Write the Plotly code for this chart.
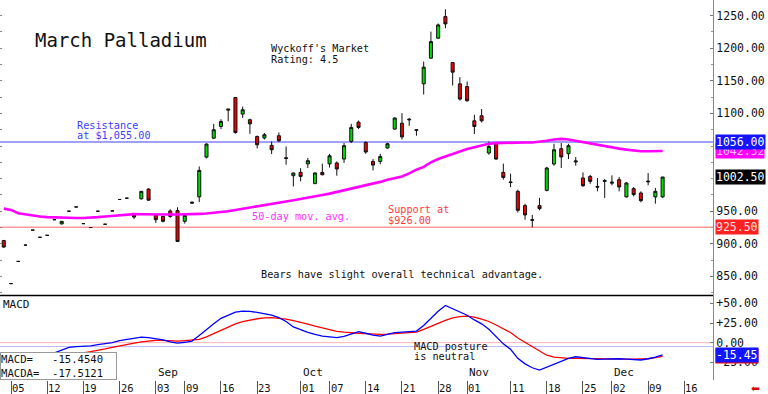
import plotly.graph_objects as go

# ---------------- data ----------------
tick_idx = [0, 5, 10, 15, 20, 24, 29, 34, 40, 44, 49, 54, 59, 63, 69, 74, 79, 83, 88, 93]
tick_labels = ["05", "12", "19", "26", "03", "09", "16", "23", "01", "07", "14", "21",
               "28", "01", "11", "18", "25", "02", "09", "16"]
month_idx = [20, 40, 63, 83]
month_labels = ["Sep", "Oct", "Nov", "Dec"]

day_idx = list(range(-1, 91))
opens = [905, 839, 873, 898, 921, 910, 913, 937, 930.5, 950, 956.5, 931, 925, 950, 930, 950.5, 968, 970,
         946, 969, 984, 945, 942, 950.5, 951, 934.5, 964, 972, 1033, 1062, 1080, 1105, 1124.4, 1099,
         1090.3, 1064.7, 1062.3, 1051, 1065.8, 1032, 1004.5, 1009.6, 1022.6, 992.3, 1009.6, 1022.6, 1024,
         1030, 1057, 1086.7, 1055.5, 1026.4, 1026.4, 1047, 1076, 1085, 1090, 1075, 1145.4, 1184.8, 1215.4,
         1248.5, 1178, 1145.4, 1141.3, 1088.7, 1096.4, 1039.3, 1053.5, 1009.6, 995, 980.5, 958.6, 936,
         958.6, 982, 1022.4, 1045.9, 1038.2, 1025.5, 1001, 1003.4, 988, 997, 993, 998.4, 972, 984.6, 978,
         995, 972, 972]
highs = [906, 839, 873, 898, 921, 910, 913, 937, 935, 950, 956.5, 931, 925, 950, 930, 950.5, 968, 970,
         947, 981, 985, 946, 943, 953, 956, 945, 964.5, 1018.7, 1054, 1084, 1091, 1107, 1125, 1110.6,
         1092, 1066, 1070, 1057, 1070.8, 1049.4, 1009, 1016, 1031.6, 1009.5, 1023, 1038, 1026.4, 1054.6,
         1084, 1089, 1057, 1030, 1038, 1055, 1094, 1100.5, 1093, 1076, 1179.6, 1225.5, 1238, 1259.8,
         1178.5, 1155.7, 1149, 1097.9, 1106.7, 1057, 1055, 1023, 1007.6, 983, 961.6, 944.3, 970.4, 1018,
         1053.5, 1054.6, 1053.5, 1033.2, 1009.6, 1005.7, 1001, 999.5, 1005, 1002.5, 994.5, 987.2, 980.5,
         1008.6, 985.7, 1002.5]
lows = [894, 839, 873, 898, 921, 910, 913, 937, 930, 950, 956.5, 931, 925, 950, 930, 950.5, 968, 970,
        938, 968, 966, 932, 933, 940, 903, 931, 962, 964, 1031, 1061, 1076, 1088, 1069, 1093, 1068.8,
        1046.3, 1060, 1037.7, 1056, 1021.4, 988, 995.8, 1016.3, 992, 1005, 1017, 1004.5, 1024, 1054.6,
        1076, 1038, 1012.6, 1022, 1046, 1075, 1060, 1081, 1065.8, 1129, 1184, 1214, 1230.7, 1142.8,
        1119.8, 1118.3, 1068.4, 1086, 1036.7, 1029, 998.4, 987, 948, 937, 925.3, 951.4, 980.5, 1019.8,
        1016.3, 1030, 1019.8, 987.2, 992, 980.5, 970.4, 989.7, 980.5, 971, 972.8, 963.6, 989.7, 961.6,
        970.4]
closes = [895, 839, 873, 898, 921, 910, 913, 937, 934.5, 950, 956.5, 931, 925, 950, 930, 950.5, 968, 970,
          941, 980.5, 967, 937, 934.5, 942, 903.5, 943.7, 962.5, 1012.6, 1053, 1075, 1087.7, 1106.5,
          1070.8, 1105.6, 1084, 1052, 1067.3, 1044.3, 1058, 1031, 1008.6, 1003.4, 1027.5, 1008.7, 1006,
          1035, 1014.8, 1050.5, 1078.5, 1078.5, 1040.8, 1020.8, 1034, 1053.5, 1093, 1064, 1091, 1074,
          1171, 1210.2, 1235.8, 1237.3, 1163.3, 1122, 1119.4, 1080, 1088.7, 1049.4, 1030, 1001.9, 994,
          951.4, 944.3, 937, 954, 1016.3, 1044.3, 1033.2, 1050.5, 1027, 989.2, 995.8, 987, 996, 994.5,
          987.2, 993.3, 975.5, 966.2, 996, 980.5, 1002.5]
ma50 = [954, 952, 947, 945, 943.5, 942, 941, 940.5, 940, 940, 939.7, 939.7, 940, 941, 942, 943, 944, 945,
        945.5, 945.3, 945, 944.8, 944.8, 945, 945, 945, 945.3, 946, 946.5, 947.5, 948.3, 950, 952, 954,
        956, 957.5, 959.5, 961.5, 963.5, 965, 966.7, 968.5, 970.5, 972.5, 975, 977, 979.5, 982, 984.5,
        987, 989.5, 992, 995, 998.4, 1001, 1003.4, 1008, 1013.7, 1018, 1025, 1030, 1034, 1038, 1042,
        1045.4, 1048, 1051, 1053.5, 1054.5, 1055, 1055, 1055.3, 1055.5, 1055.5, 1056.5, 1058, 1060, 1061,
        1060, 1058, 1056, 1053.5, 1051, 1049.4, 1047.5, 1046, 1044.5, 1043, 1042, 1042, 1042, 1042.32]

macd_idx = list(range(6, 91))
macd = [-13, -9, -6, -5, -4.5, -4, -2.5, -1.5, 0, 2.5, 4.2, 5.5, 7, 6.5, 5, 3.5, 1, -0.5, 0.5, 2, 9, 17,
        24, 31, 35.5, 39, 40.2, 40, 38.5, 37, 35, 32, 27, 20, 16, 13, 10.5, 8.4, 7.5, 6.4, 8, 11.5, 14,
        12, 9.5, 8.4, 10.5, 12.7, 13.5, 14.2, 14.8, 22, 31, 40, 47.5, 43.5, 39.5, 35, 29, 24, 17, 7.5,
        -1.5, -8.5, -20, -27, -32, -35, -31, -27, -24, -20, -18, -19, -20.5, -21.2, -21, -20.4, -20.5,
        -21, -21.5, -22.1, -20.5, -18.5, -15.454]
signal_idx = list(range(8, 91))
signal = [-16.5, -14.5, -13, -11.5, -10, -8, -6, -4, -2, -0.5, 1, 2, 2.9, 3, 2.5, 2, 2.5, 3.5, 4.2, 7.5,
          11.5, 16, 20, 24, 26.8, 29, 30.5, 31.5, 31.8, 31, 30, 28, 26, 23.5, 21, 19, 17, 14.5, 13.5,
          12.5, 12, 11.5, 11, 10.6, 11, 11.5, 12, 12.5, 13.5, 17, 21, 25, 28.5, 31.5, 33.3, 33.8, 32.5,
          30, 27, 22.5, 17.5, 13, 6, 0.5, -5, -11.5, -16, -18.5, -19.5, -20, -20, -20, -20.1, -20.2,
          -20.3, -20.4, -20.6, -20.9, -21.1, -21.2, -20.5, -19, -17.5121]

resistance = 1056.0
support = 925.5

# ---------------- geometry helpers (styles only) ----------------
H_PLOT = 380.0
W_PLOT = 713.0
SPLIT = 0.2225


def py(p):
    return (H_PLOT - p) / H_PLOT


def px(p):
    return p / W_PLOT


MONO = "DejaVu Sans Mono"
X_RANGE = [-1.519, 96.96]

fig = go.Figure()

fig.add_trace(go.Candlestick(
    x=day_idx, open=opens, high=highs, low=lows, close=closes,
    increasing=dict(fillcolor="#00d800", line=dict(color="#111111", width=1)),
    decreasing=dict(fillcolor="#ee0000", line=dict(color="#111111", width=1)),
    whiskerwidth=0, xaxis="x", yaxis="y", showlegend=False, hoverinfo="skip"))

fig.add_trace(go.Scatter(x=day_idx, y=ma50, mode="lines", line=dict(color="#ff00ff", width=2.6),
                         xaxis="x", yaxis="y", showlegend=False, hoverinfo="skip"))

fig.add_trace(go.Scatter(x=[day_idx[0]], y=[ma50[0]], mode="none", xaxis="x", yaxis="y3",
                         showlegend=False, hoverinfo="skip"))

fig.add_trace(go.Scatter(x=signal_idx, y=signal, mode="lines", line=dict(color="#ff0000", width=1.3),
                         xaxis="x2", yaxis="y2", showlegend=False, hoverinfo="skip"))
fig.add_trace(go.Scatter(x=macd_idx, y=macd, mode="lines", line=dict(color="#0000ff", width=1.3),
                         xaxis="x2", yaxis="y2", showlegend=False, hoverinfo="skip"))

shapes = [
    dict(type="line", xref="paper", x0=0, x1=1, yref="y", y0=resistance, y1=resistance,
         line=dict(color="#a0a0ff", width=2), layer="below"),
    dict(type="line", xref="paper", x0=0, x1=1, yref="y", y0=support, y1=support,
         line=dict(color="#ff9a9a", width=1.5), layer="below"),
    dict(type="line", xref="paper", x0=0, x1=1, yref="y2", y0=0, y1=0,
         line=dict(color="#ffb4b4", width=1), layer="below"),
    dict(type="line", xref="paper", x0=0, x1=1, yref="y2", y0=-5, y1=-5,
         line=dict(color="#b8b8ff", width=1), layer="below"),
    dict(type="line", xref="paper", x0=0, x1=1, yref="paper", y0=SPLIT, y1=SPLIT,
         line=dict(color="#000000", width=1.5)),
]

ann = []


def txt(text, x, y, size=10.2, color="#111111", xanchor="left", yanchor="middle", **kw):
    d = dict(text=text, x=x, y=y, xref="paper", yref="paper", showarrow=False,
             xanchor=xanchor, yanchor=yanchor, font=dict(family=MONO, size=size, color=color))
    d.update(kw)
    ann.append(d)


txt("March Palladium", px(33), py(39.5), size=19)
txt("Wyckoff's Market", px(269), py(48.5))
txt("Rating: 4.5", px(269), py(59.5))
txt("Resistance", px(75), py(125), color="#3c3cff")
txt("at $1,055.00", px(75), py(135.5), color="#3c3cff")
txt("50-day mov. avg.", px(250), py(216), color="#ff30ff")
txt("Support at", px(385.5), py(209.5), color="#ff3a3a")
txt("$926.00", px(385.5), py(220), color="#ff3a3a")
txt("Bears have slight overall technical advantage.", px(258.5), py(274.5))
txt("MACD", px(1), py(304), size=11)
txt("MACD posture", px(412), py(346))
txt("is neutral", px(412), py(356.5))

ann.append(dict(
    text=("MACD=\u00a0\u00a0\u00a0" + f"{macd[-1]:.4f}" + "\u00a0\u00a0<br>" +
          "MACDA=\u00a0\u00a0" + f"{signal[-1]:.4f}" + "\u00a0\u00a0"),
    x=0, y=0, xref="paper", yref="paper", xanchor="left", yanchor="bottom", showarrow=False,
    align="left", bgcolor="#ffffff", bordercolor="#999999", borderwidth=1, borderpad=0,
    font=dict(family=MONO, size=10.6, color="#111111")))

for i, lab in zip(month_idx, month_labels):
    ann.append(dict(text=lab, x=i, y=0, xref="x2", yref="paper", xanchor="left", yanchor="bottom",
                    xshift=0, yshift=-1, showarrow=False, font=dict(family=MONO, size=11, color="#111111")))

for i, lab in zip(tick_idx, tick_labels):
    ann.append(dict(text=lab, x=i, y=0, xref="x2", yref="paper", xanchor="left", yanchor="middle",
                    xshift=0, yshift=-7.5, showarrow=False, borderpad=0,
                    font=dict(family=MONO, size=10.5, color="#111111")))


def valbox(v, label, bg, fg, yref="y"):
    ann.append(dict(text=label, x=1, y=v, xref="paper", yref=yref, xanchor="left", yanchor="middle",
                    xshift=2, showarrow=False, bgcolor=bg, borderpad=0,
                    font=dict(family=MONO, size=11.5, color=fg)))


valbox(ma50[-1], f"{ma50[-1]:.2f}", "#ff00ff", "#ffc0ff")
valbox(resistance, f"{resistance:.2f}", "#1414ff", "#ffffff")
valbox(closes[-1], f"{closes[-1]:.2f}", "#000000", "#ffffff")
valbox(support, f"{support:.2f}", "#ff2020", "#ffe0e0")
valbox(signal[-1], f"{signal[-1]:.2f}", "#ff0000", "#ffe0e0", yref="y2")
valbox(macd[-1], f"{macd[-1]:.2f}", "#1414ff", "#ffffff", yref="y2")

ann.append(dict(text="\u2b05", x=1, y=0, xref="paper", yref="paper", xanchor="left", yanchor="middle",
                xshift=37, yshift=-8, showarrow=False, borderpad=0,
                font=dict(family="DejaVu Sans", size=10.5, color="#e00000")))

fig.update_layout(
    width=768, height=394,
    margin=dict(l=0, r=55, t=0, b=14),
    paper_bgcolor="#ffffff", plot_bgcolor="#ffffff",
    showlegend=False,
    shapes=shapes, annotations=ann,
    boxgap=0.4,
    xaxis=dict(domain=[0, 1], anchor="y", range=X_RANGE, showgrid=False, zeroline=False,
               showticklabels=False, ticks="", rangeslider=dict(visible=False), fixedrange=True),
    yaxis=dict(domain=[SPLIT, 1], anchor="x", side="right", range=[820.8, 1274], showgrid=False,
               zeroline=False, showline=True, linecolor="#888888", linewidth=1,
               tickvals=[850, 900, 950, 1100, 1150, 1200, 1250], tickformat=".2f",
               ticks="inside", ticklen=3, tickcolor="#777777",
               minor=dict(dtick=25, ticks="inside", ticklen=2, tickcolor="#999999"),
               tickfont=dict(family=MONO, size=11.5, color="#111111")),
    yaxis3=dict(overlaying="y", anchor="x", side="left", range=[820.8, 1274], showgrid=False,
                zeroline=False, showline=False, showticklabels=False, dtick=25, tick0=1250,
                ticks="inside", ticklen=2, tickcolor="#888888"),
    xaxis2=dict(domain=[0, 1], anchor="y2", range=X_RANGE, showgrid=False, zeroline=False,
                tickvals=tick_idx, ticktext=[""] * len(tick_idx), ticks="outside", ticklen=14,
                tickcolor="#555555", tickwidth=1, showline=False),
    yaxis2=dict(domain=[0, SPLIT], anchor="x2", side="right", range=[-47.6, 60.2], showgrid=False,
                zeroline=False, showline=True, linecolor="#888888", linewidth=1,
                tickvals=[50, 25, 0, -25], ticktext=["+50.00", "+25.00", "0.00", "-25.00"],
                ticks="inside", ticklen=3, tickcolor="#777777",
                tickfont=dict(family=MONO, size=11.5, color="#111111")),
)

fig.write_html("out.html", config={"displayModeBar": False},
               post_script="document.body.style.margin='0';document.body.style.padding='0';")
